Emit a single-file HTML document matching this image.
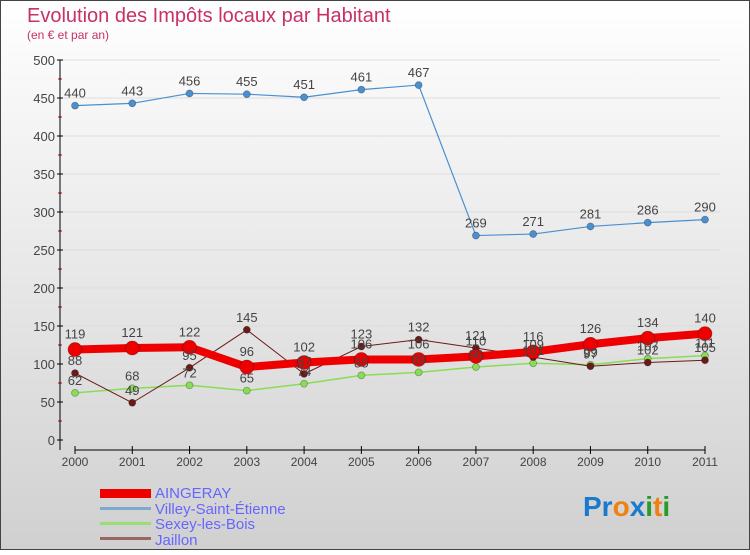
<!DOCTYPE html>
<html><head><meta charset="utf-8"><style>
body{margin:0;width:750px;height:550px;overflow:hidden;font-family:"Liberation Sans",sans-serif}
</style></head><body>
<svg width="750" height="550" xmlns="http://www.w3.org/2000/svg">
<defs><linearGradient id="bg" x1="0" y1="0" x2="0" y2="1"><stop offset="0" stop-color="#ffffff"/><stop offset="1" stop-color="#d0d0d0"/></linearGradient></defs>
<rect x="0.5" y="0.5" width="749" height="549" fill="url(#bg)" stroke="#444"/>
<text x="27" y="22" font-size="20" fill="#c8306a">Evolution des Impôts locaux par Habitant</text>
<text x="27" y="39" font-size="12" fill="#c8306a">(en € et par an)</text>
<g id="grid"></g><g id="axes"></g><g id="series"></g><g id="labels"></g>
<g font-size="15" fill="#6666ff">
<rect x="100" y="489" width="51" height="9" fill="#e00"/>
<text x="155" y="498">AINGERAY</text>
<rect x="100" y="507" width="51" height="3" fill="#7aaad0"/>
<text x="155" y="514">Villey-Saint-Étienne</text>
<rect x="100" y="522" width="51" height="3" fill="#99dd77"/>
<text x="155" y="529">Sexey-les-Bois</text>
<rect x="100" y="537" width="51" height="3" fill="#996666"/>
<text x="155" y="545">Jaillon</text>
</g>
<g font-size="28" font-weight="bold">
<text x="583" y="516"><tspan fill="#1a7acc">Pr</tspan><tspan fill="#f08010">o</tspan><tspan fill="#1a7acc">x</tspan><tspan fill="#2a9a2a">i</tspan><tspan fill="#f08010">t</tspan><tspan fill="#2a9a2a">i</tspan></text>
</g>
</svg>
<script>
const years=["2000","2001","2002","2003","2004","2005","2006","2007","2008","2009","2010","2011"];
const yTicks=[0,50,100,150,200,250,300,350,400,450,500];
const aingeray=[119,121,122,96,102,106,106,110,116,126,134,140];
const villey=[440,443,456,455,451,461,467,269,271,281,286,290];
const sexey=[62,68,72,65,74,85,89,96,101,99,107,111];
const jaillon=[88,49,95,145,87,123,132,121,109,97,102,105];
const NS="http://www.w3.org/2000/svg";
const X=i=>75+i*(705-75)/11;
const Y=v=>440-v*0.76;
function mk(tag,attrs,parent){const e=document.createElementNS(NS,tag);for(const k in attrs)e.setAttribute(k,attrs[k]);document.getElementById(parent).appendChild(e);return e;}
yTicks.forEach(t=>{
 const g=mk('line',{x1:60,x2:720,y1:Y(t),y2:Y(t),stroke:'#dddddd','stroke-width':1},'grid');
 
 
 const tk=mk('line',{x1:57,x2:63,y1:Y(t),y2:Y(t),stroke:'#000'},'axes');
 
 
 if(t<500){const m=mk('line',{x1:58,x2:62,y1:Y(t+25),y2:Y(t+25),stroke:'#d00'},'axes');
 
 }
 const l=mk('text',{x:55,y:Y(t)+5,'text-anchor':'end','font-size':13,fill:'#444'},'axes');l.textContent=t;
 
 
});
let a=mk('line',{x1:60,x2:60,y1:Y(500),y2:450,stroke:'#000'},'axes');


a=mk('line',{x1:75,x2:705,y1:450,y2:450,stroke:'#000'},'axes');


years.forEach((y,i)=>{
 const tk=mk('line',{x1:X(i),x2:X(i),y1:446,y2:454,stroke:'#000'},'axes');
 
 
 const l=mk('text',{x:X(i),y:466,'text-anchor':'middle','font-size':12,fill:'#444'},'axes');l.textContent=y;
 
 
});
function series(vals,color,w,r,name){
 const p=mk('polyline',{points:vals.map((v,i)=>X(i)+','+Y(v)).join(' '),fill:'none',stroke:color,'stroke-width':w,'stroke-linejoin':'round'},'series');
 
 
 vals.forEach((v,i)=>{
  const c=mk('circle',{cx:X(i),cy:Y(v),r:r,fill:color,stroke:'rgba(0,0,0,0.3)','stroke-width':0.8},'series');
  
  
  const t=mk('text',{x:X(i),y:Y(v)-8-(r>5?3:0),'text-anchor':'middle','font-size':13,fill:'#444'},'labels');t.textContent=v;
  
  
 });
}
series(sexey,'#88dd55',1.5,3.5,'sexey');
series(jaillon,'#6b1a1a',1,3.5,'jaillon');
series(villey,'#4a90d0',1.2,3.5,'villey');
series(aingeray,'#ee0000',8,7,'aingeray');
</script>
</body></html>
